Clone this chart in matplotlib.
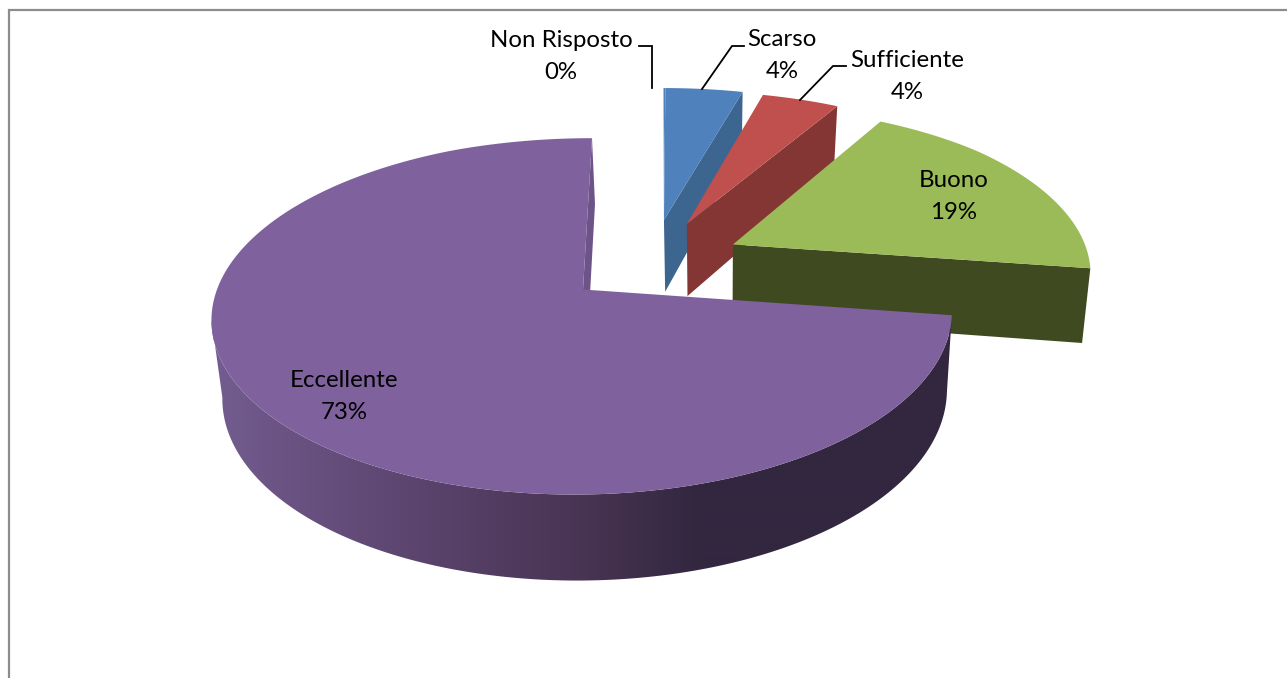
import matplotlib
matplotlib.use('Agg')
import matplotlib.pyplot as plt
import numpy as np
from matplotlib.colors import to_rgb
from matplotlib.patches import Polygon

### chart data, clockwise from 12 o'clock
labels = ['Non Risposto', 'Scarso', 'Sufficiente', 'Buono', 'Eccellente']
values = [0.1, 4.1, 4.1, 19, 72.7]
percents = ['0%', '4%', '4%', '19%', '73%']

top_colors = ['#4f81bd', '#4f81bd', '#c0504d', '#9bbb59', '#7f619d']
wall_colors = ['#3c6590', '#3c6590', '#843634', '#3f4a21', '#6c5489']

# explode offset of each slice, in units of the pie radius
explode_x = [0.224, 0.224, 0.29, 0.419, 0.0]
explode_y = [0.423, 0.423, 0.397, 0.268, 0.0]

label_x = [561, 782, 907, 954, 344]
label_y = [56.5, 55.5, 76.5, 196.5, 396.5]

# leader lines, only the three outer labels have one
leader_x = [[639, 652, 652], [744, 732, 702], [846, 833, 800]]
leader_y = [[46, 46, 88], [46, 46, 89], [66, 66, 100]]

# rim shading stops, page x against colour
shade_x = [222, 400, 590, 700]
shade_colors = ['#725b8e', '#5d4670', '#473352', '#32273f']

# projection of the pie plane on the page, in pixels
cx, cy = 583, 289.5
rx, ry = 366, 174.6
persp = 0.1485
lean = 9


def project(theta, r, dx, dy, bottom=False):
    # theta in degrees clockwise from the back of the pie
    t = np.radians(theta)
    u = r * np.sin(t) + dx
    v = r * np.cos(t) + dy
    w = 1 + persp * v
    x = cx + rx * u / w + lean * v
    y = cy - ry * v / w + 7 * np.clip(v - 0.9, 0, None)
    if bottom:
        x = x + 3 - 8 * u
        y = y + 76 - 10 * v
    return x, y


def quad(theta_a, theta_b, dx, dy):
    # side face between two points of the top and the same two of the bottom
    xa, ya = project(np.array(theta_a), np.array(theta_b), dx, dy)
    xb, yb = project(np.array(theta_a[::-1]), np.array(theta_b[::-1]), dx, dy, True)
    return np.r_[xa, xb], np.r_[ya, yb]


fig = plt.figure(figsize=(12.87, 6.78), dpi=100)
ax = fig.add_axes([0, 0, 1, 1])

# chart frame: only left and top fall inside the crop
ax.plot([9, 9, 1287], [678, 10, 10], color='#8c8c8c', lw=1.6, solid_joinstyle='miter')

edges = np.cumsum([0] + values) / np.sum(values) * 360

for i in range(5):
    start, end = edges[i], edges[i + 1]
    dx, dy = explode_x[i], explode_y[i]
    arc = np.linspace(start, end, 200)

    if i == 4:
        # far cut face just shows beside the top of the big slice
        xs, ys = quad([end, end], [1, 0], dx, dy)
        ax.fill(xs, ys, color=wall_colors[i], lw=0)

        # rim with horizontal shading, clipped gradient image, up to the left extreme
        rim = np.arange(start, 300, 0.5)
        rim = rim[:np.argmin(project(rim, 1, dx, dy)[0]) + 1]
        xa, ya = project(rim, 1, dx, dy)
        xb, yb = project(rim[::-1], 1, dx, dy, True)
        rim_poly = Polygon(np.c_[np.r_[xa, xb], np.r_[ya, yb]], closed=True, fc='none', ec='none', transform=ax.transData)
        ax.add_patch(rim_poly)
        grad_x = np.arange(200, 960)
        rgb = np.array([to_rgb(c) for c in shade_colors])
        grad = np.stack([np.interp(grad_x, shade_x, rgb[:, k]) for k in range(3)], axis=-1)[None, :, :]
        im = ax.imshow(grad, extent=(200, 960, 600, 300), aspect='auto', interpolation='bilinear', zorder=1)
        im.set_clip_path(rim_poly)
    elif values[i] >= 1:
        # near cut face of the exploded slices
        xs, ys = quad([end, end], [0, 1], dx, dy)
        ax.fill(xs, ys, color=wall_colors[i], lw=0)

    ax_x, ax_y = project(start, 0, dx, dy)
    arc_x, arc_y = project(arc, 1, dx, dy)
    ax.fill(np.r_[ax_x, arc_x], np.r_[ax_y, arc_y], color=top_colors[i], lw=0, zorder=2 if i == 4 else 1)

for lx, ly in zip(leader_x, leader_y):
    ax.plot(lx, ly, color='black', lw=1.3, solid_joinstyle='miter', zorder=3)

for i in range(5):
    ax.text(label_x[i], label_y[i], labels[i] + '\n' + percents[i], ha='center', va='center',
            family=['Lato', 'DejaVu Sans'], fontsize=17.3, color='black', linespacing=1.7, zorder=3)

ax.set_xlim(0, 1287)
ax.set_ylim(678, 0)
ax.axis('off')

fig.savefig('out.png', dpi=100)
